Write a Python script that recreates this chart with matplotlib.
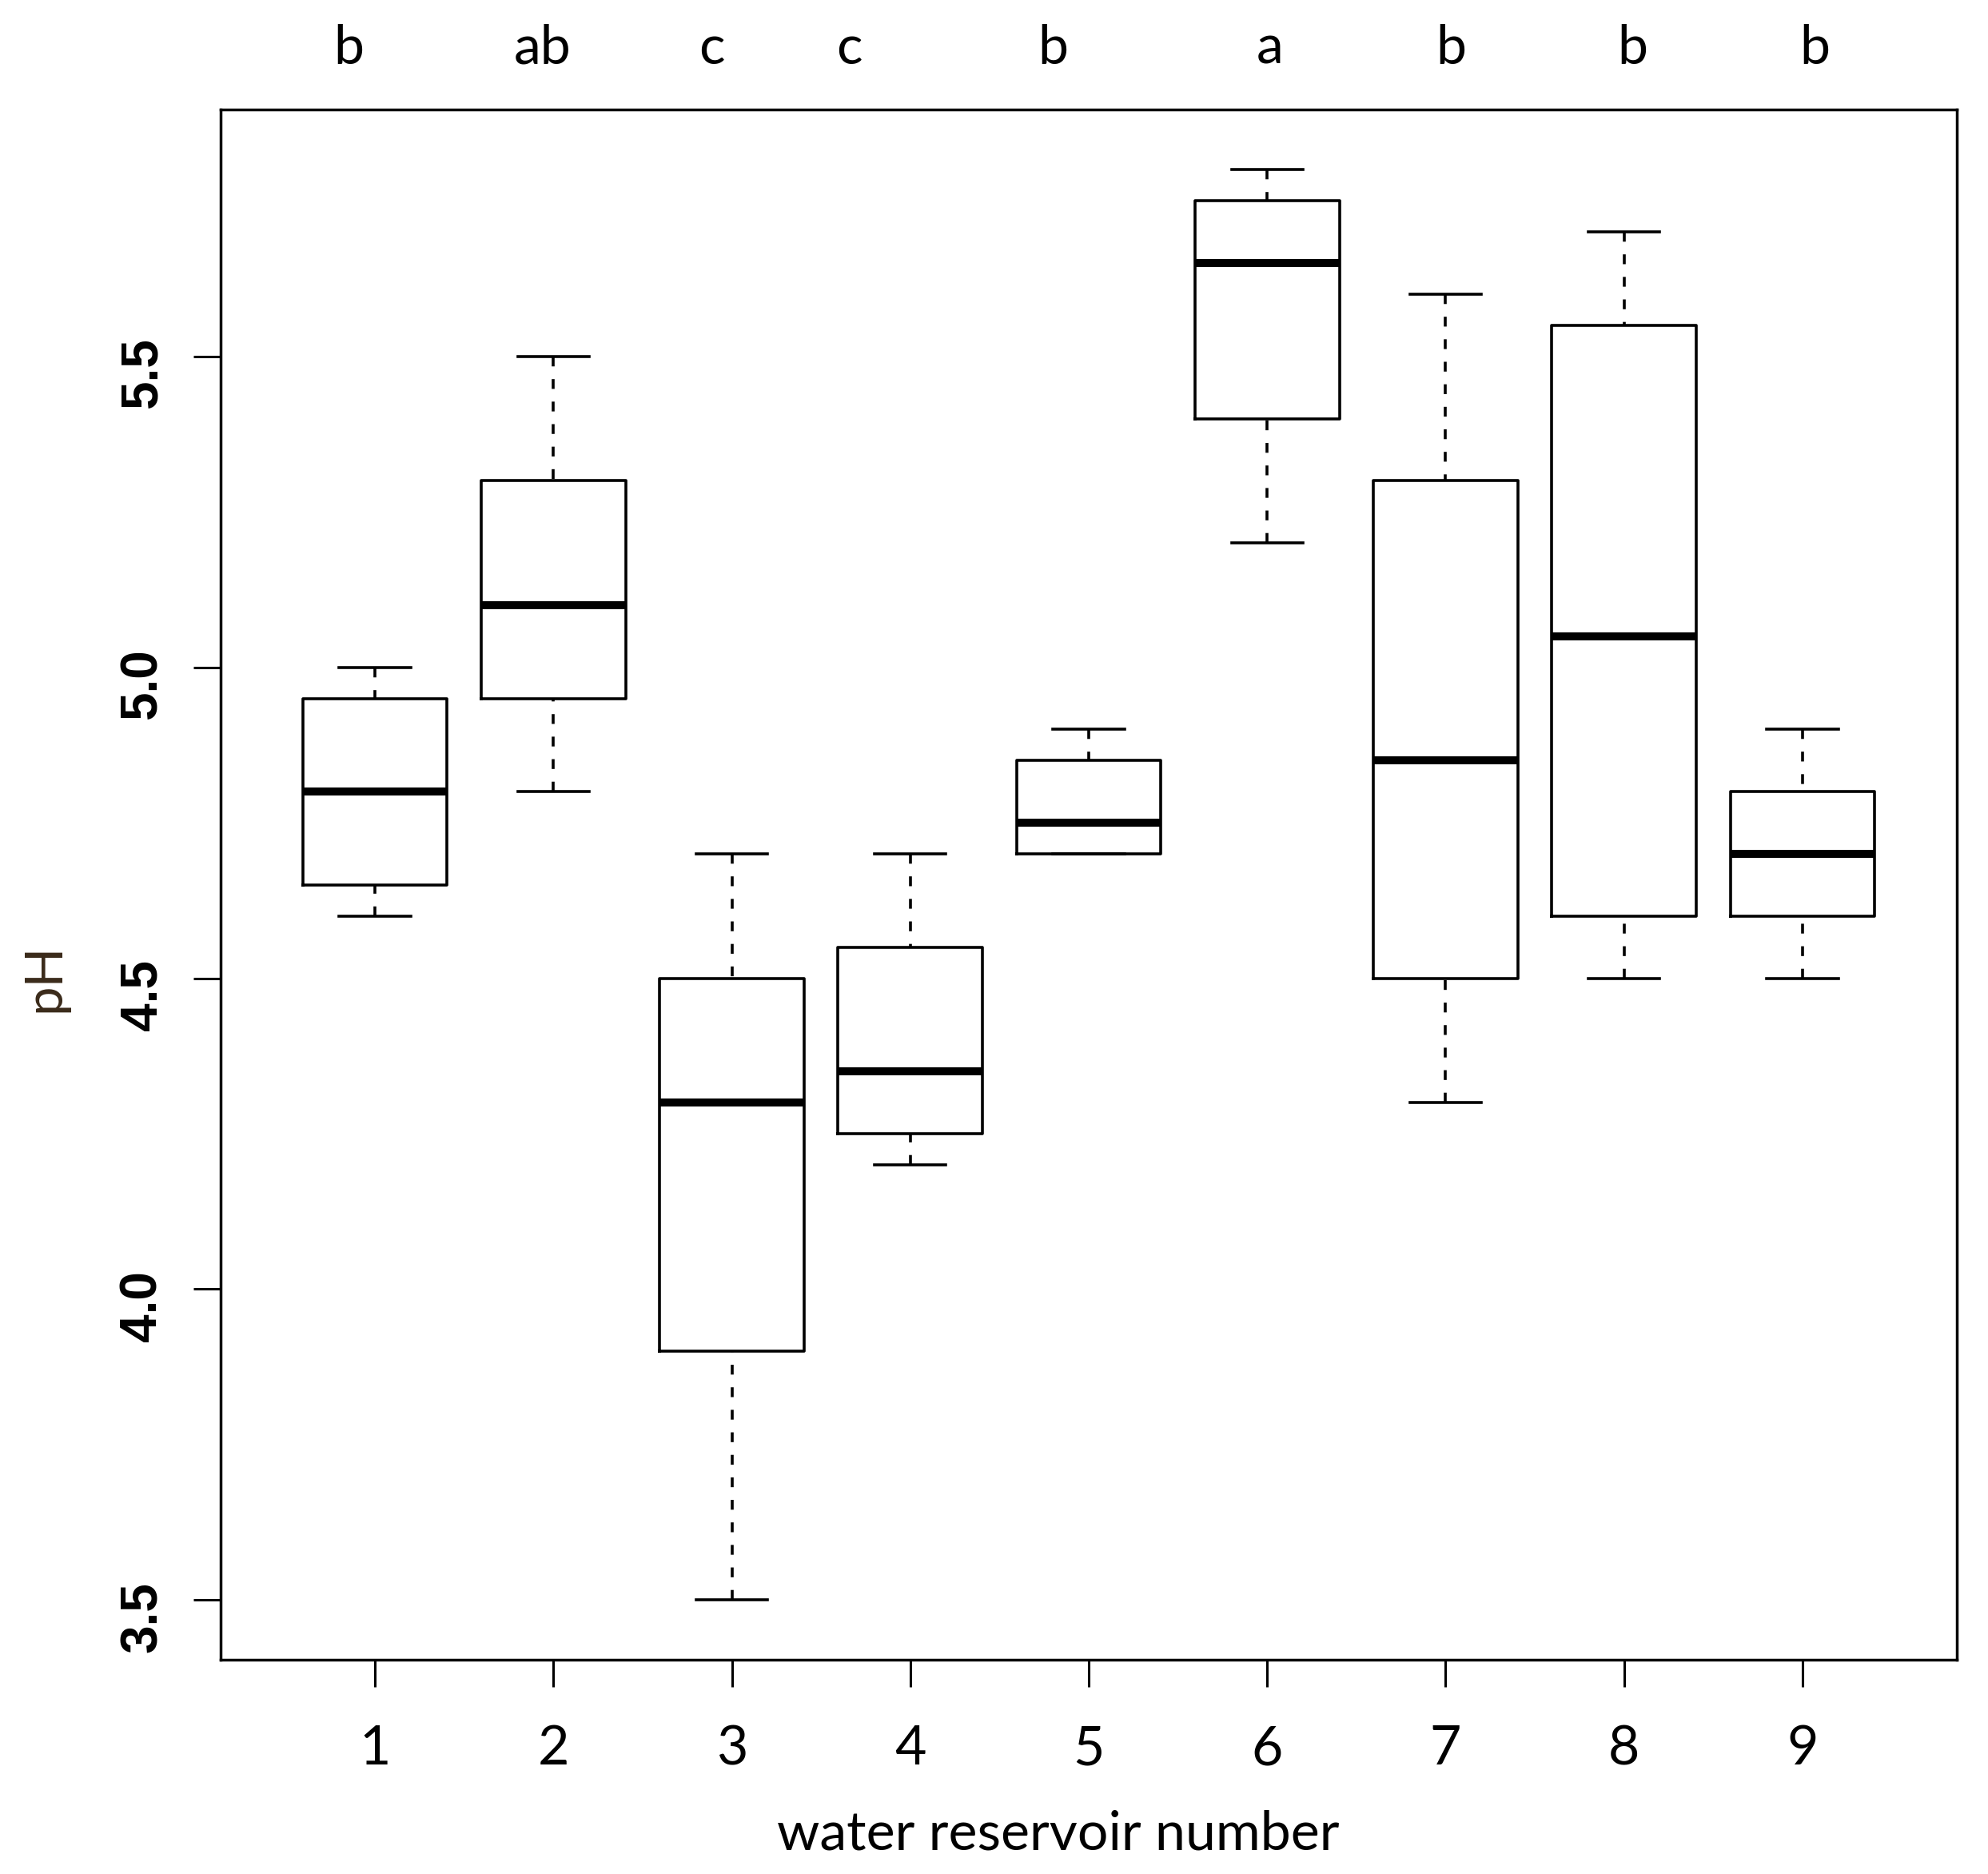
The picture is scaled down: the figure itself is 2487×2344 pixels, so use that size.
import matplotlib
matplotlib.use("Agg")
import matplotlib.pyplot as plt
from matplotlib import font_manager as fm
import matplotlib.transforms as mtransforms

# ---------------- data ----------------
reservoirs = ["1", "2", "3", "4", "5", "6", "7", "8", "9"]
whisker_low = [4.60, 4.80, 3.50, 4.20, 4.70, 5.20, 4.30, 4.50, 4.50]
q1 = [4.65, 4.95, 3.90, 4.25, 4.70, 5.40, 4.50, 4.60, 4.60]
median = [4.80, 5.10, 4.30, 4.35, 4.75, 5.65, 4.85, 5.05, 4.70]
q3 = [4.95, 5.30, 4.50, 4.55, 4.85, 5.75, 5.30, 5.55, 4.80]
whisker_high = [5.00, 5.50, 4.70, 4.70, 4.90, 5.80, 5.60, 5.70, 4.90]
group_letters = ["b", "ab", "c", "c", "b", "a", "b", "b", "b"]
y_ticks = [3.5, 4.0, 4.5, 5.0, 5.5]
y_tick_labels = ["3.5", "4.0", "4.5", "5.0", "5.5"]

# ---------------- fonts ----------------
names = {f.name for f in fm.fontManager.ttflist}
narrow = "Liberation Sans Narrow" if "Liberation Sans Narrow" in names else "Liberation Sans"
ytick_size = 53 if narrow == "Liberation Sans Narrow" else 46
calib = "Lato" if "Lato" in names else "DejaVu Sans"

W, H, DPI = 2487, 2344, 100
fig = plt.figure(figsize=(W / DPI, H / DPI), dpi=DPI)
ax_l, ax_r, ax_t, ax_b = 276, 2448, 137, 2076
ax = fig.add_axes([ax_l / W, 1 - ax_b / H, (ax_r - ax_l) / W, (ax_b - ax_t) / H])

positions = list(range(1, len(reservoirs) + 1))
stats = []
for i, lab in enumerate(reservoirs):
    stats.append(dict(label=lab, whislo=whisker_low[i], q1=q1[i], med=median[i],
                      q3=q3[i], whishi=whisker_high[i], fliers=[]))

lw = 2.6
res = ax.bxp(stats, positions=positions, widths=0.81, showfliers=False,
             patch_artist=False,
             boxprops=dict(color="black", linewidth=lw),
             medianprops=dict(color="black", linewidth=7.2, solid_capstyle="butt"),
             whiskerprops=dict(color="black", linewidth=lw, linestyle=(0, (3.4, 4.4))),
             capprops=dict(color="black", linewidth=lw),
             capwidths=0.40)
# draw whiskers starting from the caps (as R does)
for wl in res["whiskers"]:
    xd, yd = wl.get_xdata(), wl.get_ydata()
    wl.set_xdata(list(xd)[::-1])
    wl.set_ydata(list(yd)[::-1])

ax.set_xlim(0.135, 9.865)
ax.set_ylim(3.404, 5.897)

ax.set_yticks(y_ticks)
ax.set_yticklabels(y_tick_labels, rotation=90, fontfamily=narrow,
                   fontweight="bold", fontsize=ytick_size)
ax.set_xticks(positions)
ax.set_xticklabels(reservoirs, fontfamily=calib, fontsize=49)

ax.tick_params(axis="both", direction="out", length=24.5, width=2.2, color="black")
ax.tick_params(axis="y", pad=24)
ax.tick_params(axis="x", pad=34)

for sp in ax.spines.values():
    sp.set_linewidth(2.5)
    sp.set_color("black")

# axis labels
ax.set_xlabel("water reservoir number", fontfamily=calib, fontsize=49)
ax.xaxis.label.set_va("baseline")
ax.xaxis.set_label_coords((1324 - ax_l) / (ax_r - ax_l), (ax_b - 2313) / (ax_b - ax_t))

ax.set_ylabel("pH", fontfamily=calib, fontsize=47, color="#3a2a1a")
ylab = ax.yaxis.label
ylab.set_rotation_mode("anchor")
ylab.set_ha("center")
ylab.set_va("baseline")
ax.yaxis.set_label_coords((74 - ax_l) / (ax_r - ax_l), (ax_b - 1223) / (ax_b - ax_t))

# significance letters above the plot
letter_x = [0.855, 1.939, 2.888, 3.658, 4.80, 6.015, 7.032, 8.049, 9.07]
trans = mtransforms.blended_transform_factory(ax.transData, fig.transFigure)
for xl, txt in zip(letter_x, group_letters):
    fig.text(xl, 1 - 80 / H, txt, transform=trans, ha="center", va="baseline",
             fontfamily=calib, fontsize=49)

fig.savefig("out.png", dpi=DPI, facecolor="white")
